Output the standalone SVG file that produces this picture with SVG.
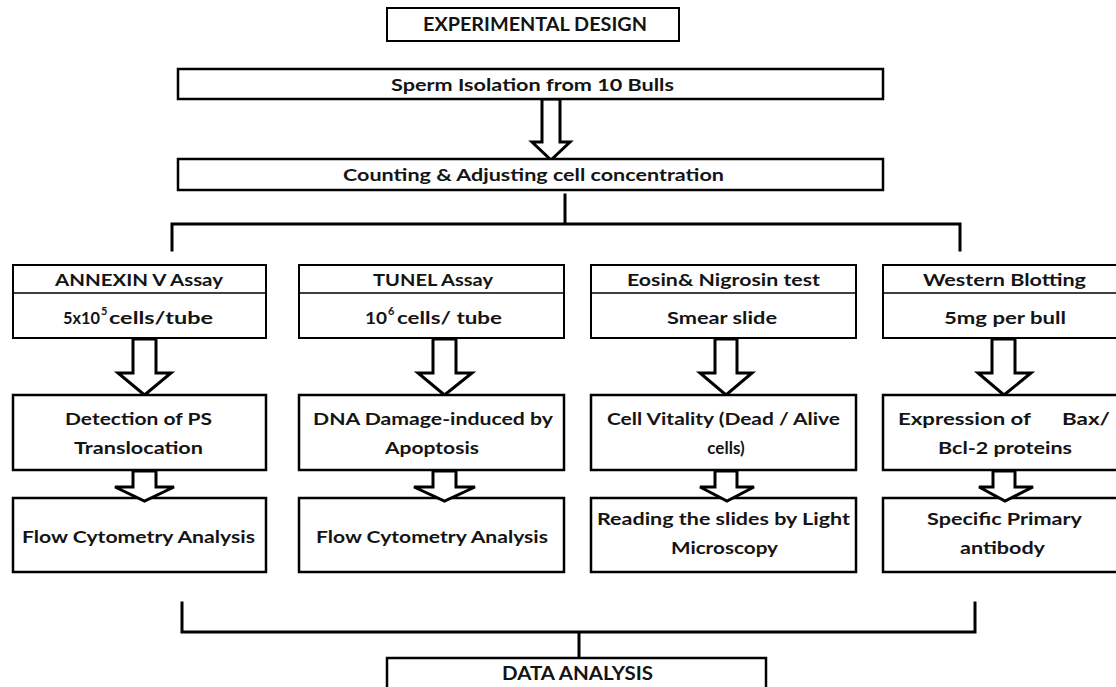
<svg xmlns="http://www.w3.org/2000/svg" width="1116" height="687" viewBox="0 0 1116 687">
<style>
.box{fill:#fff;stroke:#000;stroke-width:2.5}
.hbox{fill:#fff;stroke:#000;stroke-width:2}
.div{stroke:#000;stroke-width:1.5}
.ln{fill:none;stroke:#000;stroke-width:3;stroke-linecap:square}
.arr{fill:#fff;stroke:#000;stroke-width:3;stroke-linejoin:miter}
text{font-family:Lato,Carlito,"Liberation Sans",sans-serif;font-weight:bold;font-size:17px;fill:#141414;text-anchor:start}
.t18{font-size:18px}
.sup{font-size:11px}
.mid{text-anchor:middle}
</style>
<rect width="1116" height="687" fill="#fff"/>
<g id="connectors">
<path class="ln" d="M565,195 V224 M172,250 V224 H960 V250"/>
<path class="ln" d="M182,603 V632 H975 V603 M579,632 V658"/>
<polygon class="arr" points="542,99 560,99 560,142 570,142 551,160 532,142 542,142"/>
<polygon class="arr" points="133,339 156,339 156,373 171,373 144.5,395 118,373 133,373"/>
<polygon class="arr" points="433,339 456,339 456,373 472,373 444.5,395 418,373 433,373"/>
<polygon class="arr" points="715,339 737,339 737,373 752,373 726,395 700,373 715,373"/>
<polygon class="arr" points="992,339 1015,339 1015,373 1031,373 1004,395 978,373 992,373"/>
</g>
<g id="title"><rect class="hbox" x="387" y="8" width="292" height="33"/><text class="t18" x="423" y="31" textLength="224" lengthAdjust="spacingAndGlyphs">EXPERIMENTAL DESIGN</text></g>
<g id="sperm"><rect class="box" x="178" y="69" width="705" height="30"/><text x="391" y="91" textLength="283" lengthAdjust="spacingAndGlyphs">Sperm Isolation from 10 Bulls</text></g>
<g id="counting"><rect class="box" x="178" y="159" width="705" height="31"/><text x="343" y="181" textLength="381" lengthAdjust="spacingAndGlyphs">Counting &amp; Adjusting cell concentration</text></g>

<g id="annexin"><rect class="hbox" x="13" y="265" width="253" height="73"/><line class="div" x1="13" y1="293" x2="266" y2="293"/>
<text x="55" y="286" textLength="168" lengthAdjust="spacingAndGlyphs">ANNEXIN V Assay</text>
<text x="63" y="324" textLength="37" lengthAdjust="spacingAndGlyphs">5x10</text>
<text class="sup" x="101" y="315">5</text>
<text x="109" y="324" textLength="104" lengthAdjust="spacingAndGlyphs">cells/tube</text></g>
<g id="tunel"><rect class="hbox" x="299" y="265" width="265" height="73"/><line class="div" x1="299" y1="293" x2="564" y2="293"/>
<text x="373" y="286" textLength="120" lengthAdjust="spacingAndGlyphs">TUNEL Assay</text>
<text x="365" y="324" textLength="22" lengthAdjust="spacingAndGlyphs">10</text>
<text class="sup" x="388" y="315">6</text>
<text x="397" y="324" textLength="105" lengthAdjust="spacingAndGlyphs">cells/ tube</text></g>
<g id="eosin"><rect class="hbox" x="591" y="265" width="265" height="73"/><line class="div" x1="591" y1="293" x2="856" y2="293"/>
<text x="627" y="286" textLength="193" lengthAdjust="spacingAndGlyphs">Eosin&amp; Nigrosin test</text>
<text x="667" y="324" textLength="110" lengthAdjust="spacingAndGlyphs">Smear slide</text></g>
<g id="western"><rect class="hbox" x="883" y="265" width="244" height="73"/><line class="div" x1="883" y1="293" x2="1127" y2="293"/>
<text x="923" y="286" textLength="163" lengthAdjust="spacingAndGlyphs">Western Blotting</text>
<text x="944" y="324" textLength="122" lengthAdjust="spacingAndGlyphs">5mg per bull</text></g>

<g id="detection"><rect class="box" x="13" y="395" width="253" height="75"/>
<text x="65" y="425" textLength="147" lengthAdjust="spacingAndGlyphs">Detection of PS</text>
<text x="74" y="454" textLength="129" lengthAdjust="spacingAndGlyphs">Translocation</text></g>
<g id="dna"><rect class="box" x="299" y="395" width="265" height="75"/>
<text x="313" y="425" textLength="240" lengthAdjust="spacingAndGlyphs">DNA Damage-induced by</text>
<text x="385" y="454" textLength="94" lengthAdjust="spacingAndGlyphs">Apoptosis</text></g>
<g id="vitality"><rect class="box" x="591" y="395" width="265" height="75"/>
<text x="607" y="425" textLength="233" lengthAdjust="spacingAndGlyphs">Cell Vitality (Dead / Alive</text>
<text class="mid" x="726" y="454">cells)</text></g>
<g id="expression"><rect class="box" x="883" y="395" width="244" height="75"/>
<text x="898" y="425" textLength="133" lengthAdjust="spacingAndGlyphs">Expression of</text>
<text x="1062" y="425" textLength="48" lengthAdjust="spacingAndGlyphs">Bax/</text>
<text x="938" y="454" textLength="134" lengthAdjust="spacingAndGlyphs">Bcl-2 proteins</text></g>

<g id="flow1"><rect class="box" x="13" y="498" width="253" height="74"/>
<text x="22" y="543" textLength="233" lengthAdjust="spacingAndGlyphs">Flow Cytometry Analysis</text></g>
<g id="flow2"><rect class="box" x="299" y="498" width="265" height="74"/>
<text x="316" y="543" textLength="232" lengthAdjust="spacingAndGlyphs">Flow Cytometry Analysis</text></g>
<g id="reading"><rect class="box" x="591" y="498" width="265" height="74"/>
<text x="597" y="525" textLength="253" lengthAdjust="spacingAndGlyphs">Reading the slides by Light</text>
<text x="671" y="554" textLength="107" lengthAdjust="spacingAndGlyphs">Microscopy</text></g>
<g id="antibody"><rect class="box" x="883" y="498" width="244" height="74"/>
<text x="927" y="525" textLength="155" lengthAdjust="spacingAndGlyphs">Specific Primary</text>
<text x="960" y="554" textLength="85" lengthAdjust="spacingAndGlyphs">antibody</text></g>

<g id="small-arrows">
<polygon class="arr" points="133,471 156,471 156,487 174,487 144.5,501 115,487 133,487"/>
<polygon class="arr" points="433,471 456,471 456,487 475,487 444.5,501 414,487 433,487"/>
<polygon class="arr" points="715,471 737,471 737,487 754,487 727,501 700,487 715,487"/>
<polygon class="arr" points="993,471 1015,471 1015,487 1033,487 1005,501 979,487 993,487"/>
</g>
<g id="data"><rect class="box" x="387" y="658" width="379" height="35"/>
<text class="t18" x="502" y="680" textLength="151" lengthAdjust="spacingAndGlyphs">DATA ANALYSIS</text></g>
</svg>
